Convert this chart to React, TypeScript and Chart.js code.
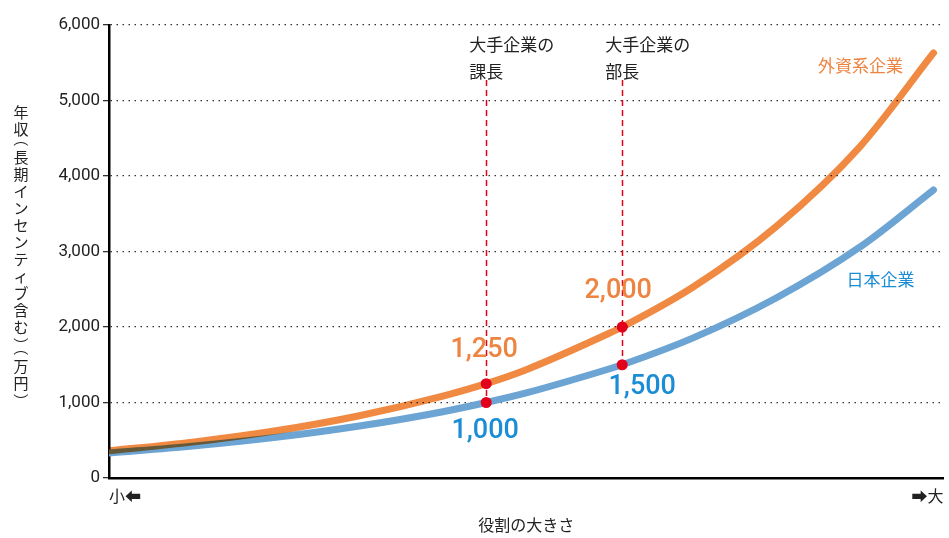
import { useEffect, useRef } from "react";
import { Chart, registerables } from "chart.js";
Chart.register(...registerables);

const roleX = [0, 10, 20, 30, 40, 45.2, 50, 60, 61.5, 70, 80, 90, 98.8];
const foreignPay = [360, 475, 625, 825, 1085, 1250, 1435, 1920, 2000, 2530, 3335, 4390, 5630];
const japanPay = [330, 422, 538, 688, 878, 1000, 1127, 1447, 1500, 1856, 2388, 3060, 3815];
const yTicks = [0, 1000, 2000, 3000, 4000, 5000, 6000];
const markerX = [45.2, 45.2, 61.5, 61.5];
const markerY = [1250, 1000, 2000, 1500];
const markerLabels = ["1,250", "1,000", "2,000", "1,500"];
const positionX = [45.2, 61.5];
const positionBottom = [1000, 1500];
const positionLabels = [["大手企業の", "課長"], ["大手企業の", "部長"]];
const seriesNames = ["外資系企業", "日本企業"];
const xEndLabels = ["小⬅", "➡大"];
const yTitle = "年収（長期インセンティブ含む）（万円）";
const xTitle = "役割の大きさ";

const ORANGE = "#F08A43";
const BLUE = "#6CA4D4";
const ORANGE_TXT = "#EE8442";
const BLUE_TXT = "#1B8DD4";
const RED = "#E3001B";
const JP = '"Noto Sans CJK JP", "Noto Sans", sans-serif';
const NUM = 'Roboto, "Noto Sans", sans-serif';

const markerOffsets = [[-2, -33], [-1, 29], [-4, -36], [20, 22]];
const markerColors = [ORANGE_TXT, BLUE_TXT, ORANGE_TXT, BLUE_TXT];
const nameOffsets = [[-73, 13], [-53, 90]];
const nameColors = [ORANGE_TXT, BLUE_TXT];

const annotPlugin = {
  id: "annot",
  beforeDatasetDraw(chart: any, args: any) {
    if (args.index === 1) {
      chart.ctx.save();
      chart.ctx.globalCompositeOperation = "multiply";
    }
  },
  afterDatasetDraw(chart: any, args: any) {
    if (args.index === 1) chart.ctx.restore();
  },
  beforeDatasetsDraw(chart: any) {
    const { ctx, scales } = chart;
    const x = scales.x, y = scales.y;
    const top = y.getPixelForValue(6000);
    ctx.save();
    ctx.strokeStyle = RED;
    ctx.lineWidth = 1.5;
    ctx.setLineDash([6, 4]);
    positionX.forEach((px, i) => {
      const xp = Math.round(x.getPixelForValue(px)) + 0.5;
      ctx.beginPath();
      ctx.moveTo(xp, top + 55);
      ctx.lineTo(xp, y.getPixelForValue(positionBottom[i]));
      ctx.stroke();
    });
    ctx.restore();
  },
  afterDatasetsDraw(chart: any) {
    const { ctx, scales } = chart;
    const x = scales.x, y = scales.y;
    const top = y.getPixelForValue(6000);
    ctx.save();
    ctx.fillStyle = "#222";
    ctx.font = `17px ${JP}`;
    ctx.textAlign = "left";
    ctx.textBaseline = "middle";
    positionX.forEach((px, i) => {
      const xp = x.getPixelForValue(px) - 17;
      positionLabels[i].forEach((t, j) => ctx.fillText(t, xp, top + 20 + j * 27));
    });
    ctx.font = `500 27px ${NUM}`;
    ctx.textAlign = "center";
    markerLabels.forEach((t, i) => {
      ctx.fillStyle = markerColors[i];
      ctx.fillText(t, x.getPixelForValue(markerX[i]) + markerOffsets[i][0], y.getPixelForValue(markerY[i]) + markerOffsets[i][1]);
    });
    ctx.font = `17px ${JP}`;
    const ends = [foreignPay[foreignPay.length - 1], japanPay[japanPay.length - 1]];
    const endX = x.getPixelForValue(roleX[roleX.length - 1]);
    seriesNames.forEach((t, i) => {
      ctx.fillStyle = nameColors[i];
      ctx.fillText(t, endX + nameOffsets[i][0], y.getPixelForValue(ends[i]) + nameOffsets[i][1]);
    });
    // vertical y-axis title, upright characters
    ctx.fillStyle = "#222";
    ctx.font = `15px ${JP}`;
    const chars = Array.from(yTitle);
    const full = 17, paren = 11;
    const cx = 21;
    let cy = 112 - full / 2;
    chars.forEach((c) => {
      const isParen = c === "（" || c === "）";
      const adv = isParen ? paren : full;
      const mid = cy + adv / 2;
      if (isParen) {
        ctx.save();
        ctx.translate(cx, mid + (c === "（" ? -4 : 4));
        ctx.rotate(Math.PI / 2);
        ctx.fillText(c, 0, 0);
        ctx.restore();
      } else {
        ctx.fillText(c, cx, mid);
      }
      cy += adv;
    });
    ctx.restore();
  },
};

export default function App() {
  const ref = useRef<HTMLCanvasElement>(null);
  useEffect(() => {
    document.body.style.margin = "0";
    const chart = new Chart(ref.current!, {
      type: "line",
      data: {
        datasets: [
          {
            type: "scatter" as any,
            data: markerX.map((v, i) => ({ x: v, y: markerY[i] })),
            backgroundColor: RED,
            borderColor: RED,
            pointRadius: 5.5,
            pointBorderWidth: 0,
            order: 0,
          } as any,
          {
            data: roleX.map((v, i) => ({ x: v, y: foreignPay[i] })),
            borderColor: ORANGE,
            borderWidth: 7,
            borderCapStyle: "round",
            pointRadius: 0,
            cubicInterpolationMode: "monotone",
            order: 1,
          },
          {
            data: roleX.map((v, i) => ({ x: v, y: japanPay[i] })),
            borderColor: BLUE,
            borderWidth: 7,
            borderCapStyle: "round",
            pointRadius: 0,
            cubicInterpolationMode: "monotone",
            order: 2,
          },
        ],
      },
      options: {
        animation: false,
        responsive: false,
        layout: { padding: { top: 25, right: 4, left: 0, bottom: 0 } },
        plugins: { legend: { display: false }, tooltip: { enabled: false } },
        scales: {
          x: {
            type: "linear",
            min: 0,
            max: 100,
            afterBuildTicks: (s: any) => { s.ticks = [{ value: 0 }, { value: 100 }]; },
            afterFit: (s: any) => { s.height = 60; },
            grid: { display: false },
            border: { display: true, color: "#000", width: 2.5 },
            ticks: {
              autoSkip: false,
              maxRotation: 0,
              align: "inner",
              padding: 0,
              color: "#222",
              font: { family: JP, size: 16 },
              callback: (v: any) => (v === 0 ? xEndLabels[0] : xEndLabels[1]),
            },
            title: {
              display: true,
              text: xTitle,
              color: "#222",
              font: { family: JP, size: 16 },
              padding: { top: 12, bottom: 3 },
            },
          },
          y: {
            min: 0,
            max: 6000,
            afterBuildTicks: (s: any) => { s.ticks = yTicks.map((v) => ({ value: v })); },
            afterFit: (s: any) => { s.width = 109; },
            grid: { color: "#333", lineWidth: 1.3, tickLength: 6 },
            border: { display: true, color: "#000", width: 2.5, dash: [1.5, 4.5] },
            ticks: {
              padding: 3,
              color: "#222",
              font: { family: NUM, size: 17 },
              callback: (v: any) => Number(v).toLocaleString("en-US"),
            },
          },
        },
      },
      plugins: [annotPlugin],
    } as any);
    return () => chart.destroy();
  }, []);
  return <canvas ref={ref} width={949} height={538} style={{ display: "block" }} />;
}
